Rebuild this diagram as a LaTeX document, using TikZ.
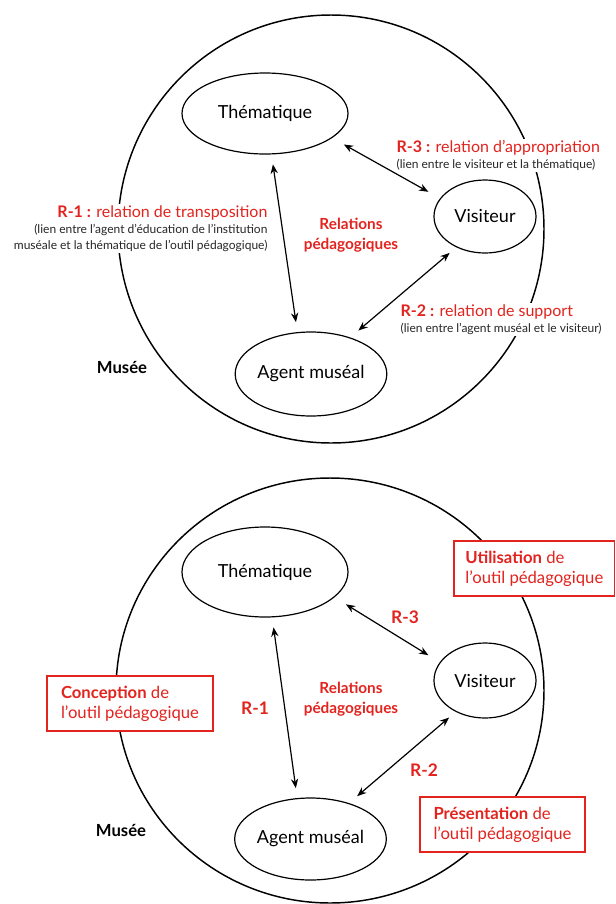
\documentclass[tikz,border=0pt]{standalone}
\usepackage{fontspec}
\setmainfont{Lato}
\usetikzlibrary{shapes.geometric,arrows.meta}
\definecolor{rouge}{RGB}{226,35,30}
\newcommand{\titrefont}{\fontsize{12}{14}\selectfont}
\newcommand{\detailfont}{\fontsize{9}{10.5}\selectfont}
\tikzset{
  pole/.style={ellipse,draw,line width=0.9pt,inner sep=0pt,font=\fontsize{13.5}{16}\selectfont},
  lien/.style={{Stealth[length=7pt,width=5.5pt]}-{Stealth[length=7pt,width=5.5pt]},line width=0.9pt},
  bloc/.style={fill=white,inner sep=1pt,text=rouge},
  rel/.style={text=rouge,font=\bfseries\fontsize{11.5}{15}\selectfont,align=center},
  etiq/.style={text=rouge,font=\bfseries\fontsize{13}{15}\selectfont},
  musee/.style={font=\bfseries\fontsize{12.5}{15}\selectfont},
  cadre/.style={draw=rouge,fill=white,line width=1pt,text=rouge,align=left,
    font=\fontsize{12.5}{15}\selectfont,minimum height=41.25pt}
}
\begin{document}
\begin{tikzpicture}[x=0.75pt,y=-0.75pt]
\useasboundingbox (0,0) rectangle (616,904);

% schema du haut
\draw[line width=1.1pt] (331,229) ellipse [x radius=213, y radius=214];
\node[pole,minimum width=124.5pt,minimum height=60.75pt] (them1) at (265,113.5) {Thématique};
\node[pole,minimum width=76.5pt,minimum height=54.75pt] (vis1) at (485,216.5) {Visiteur};
\node[pole,minimum width=108pt,minimum height=63pt] (agent1) at (311,374) {Agent muséal};

\draw[lien,shorten <=7.5pt,shorten >=7.5pt] (them1.-81) -- (agent1.108);
\draw[lien,shorten <=10pt,shorten >=10pt] (them1.-20) -- (vis1.158);
\draw[lien,shorten <=6.5pt,shorten >=8pt] (vis1.-133) -- (agent1.43);

\node[bloc,align=right,anchor=north east] (r1texte) at (269,204)
  {\titrefont\textbf{R-1 :} relation de transposition\\
   \detailfont\color{black!85}(lien entre l’agent d’éducation de l’institution\\
   \detailfont\color{black!85}muséale et la thématique de l’outil pédagogique)};
\node[bloc,align=left,anchor=north west] (r3texte) at (395,139)
  {\titrefont\textbf{R-3 :} relation d’appropriation\\
   \detailfont\color{black!85}(lien entre le visiteur et la thématique)};
\node[bloc,align=left,anchor=north west] (r2texte) at (399,303)
  {\titrefont\textbf{R-2 :} relation de support\\
   \detailfont\color{black!85}(lien entre l’agent muséal et le visiteur)};
\node[rel] (rel1) at (351,235) {Relations\\pédagogiques};
\node[musee] (musee1) at (122,367) {Musée};

% schema du bas
\draw[line width=1.1pt] (330,690.5) ellipse [x radius=214, y radius=212.5];
\node[pole,minimum width=124.5pt,minimum height=67.5pt] (them2) at (265,572) {Thématique};
\node[pole,minimum width=76.5pt,minimum height=56.25pt] (vis2) at (485,680.5) {Visiteur};
\node[pole,minimum width=108.75pt,minimum height=61.5pt] (agent2) at (310.5,839) {Agent muséal};

\draw[lien,shorten <=7.5pt,shorten >=7.5pt] (them2.-81) -- (agent2.108);
\draw[lien,shorten <=10pt,shorten >=10pt] (them2.-20) -- (vis2.158);
\draw[lien,shorten <=6.5pt,shorten >=8pt] (vis2.-133) -- (agent2.43);

\node[etiq] (r1) at (255,708) {R-1};
\node[etiq] (r2) at (424,770) {R-2};
\node[etiq] (r3) at (405,617) {R-3};
\node[rel] (rel2) at (351,699) {Relations\\pédagogiques};
\node[musee] (musee2) at (121,830) {Musée};

\node[cadre,minimum width=120.4pt] (utilisation) at (534.3,568.5) {\textbf{Utilisation} de\\l’outil pédagogique};
\node[cadre,minimum width=124.5pt] (conception) at (130,703.5) {\textbf{Conception} de\\l’outil pédagogique};
\node[cadre,minimum width=123.75pt] (presentation) at (502.5,824.5) {\textbf{Présentation} de\\l’outil pédagogique};
\end{tikzpicture}
\end{document}
